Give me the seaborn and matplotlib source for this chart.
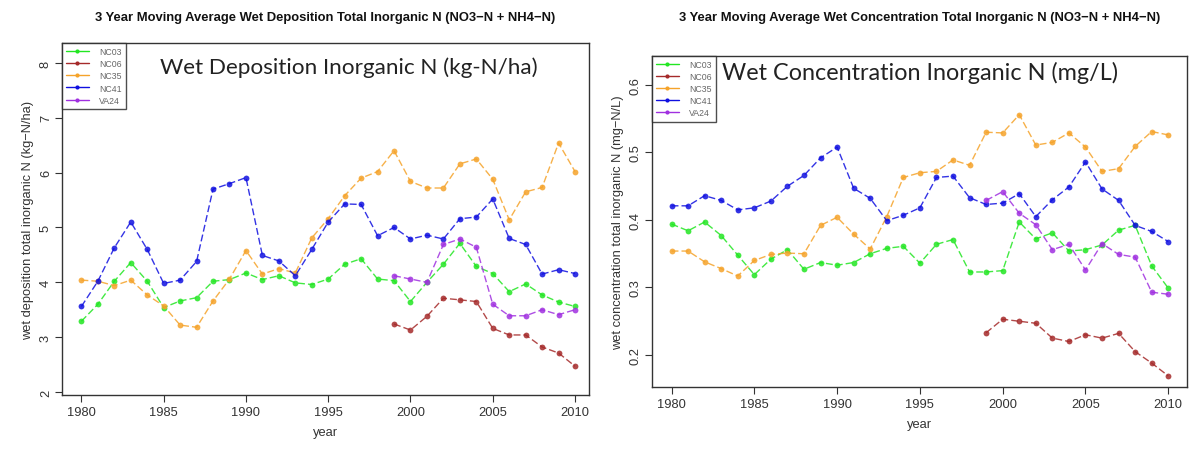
import numpy as np
import pandas as pd
import matplotlib
matplotlib.use("Agg")
import matplotlib.pyplot as plt
import seaborn as sns

# ---- data: 3-year moving averages, 1980-2010 ----
years = list(range(1980, 2011))
sites = ["NC03", "NC06", "NC35", "NC41", "VA24"]
N = None

# wet deposition, total inorganic N (kg-N/ha)
dep_nc03 = [3.29, 3.60, 4.02, 4.36, 4.02, 3.54, 3.66, 3.72, 4.02, 4.05,
            4.17, 4.05, 4.12, 3.99, 3.96, 4.06, 4.33, 4.43, 4.06, 4.03,
            3.65, 4.00, 4.33, 4.71, 4.29, 4.16, 3.83, 3.97, 3.77, 3.64, 3.56]
dep_nc06 = [N] * 19 + [3.24, 3.13, 3.38, 3.71, 3.68, 3.65, 3.16, 3.04, 3.04,
                       2.82, 2.71, 2.47]
dep_nc35 = [4.04, 4.02, 3.94, 4.04, 3.77, 3.57, 3.22, 3.18, 3.66, 4.06,
            4.58, 4.15, 4.25, 4.17, 4.81, 5.16, 5.58, 5.90, 6.02, 6.40,
            5.84, 5.72, 5.72, 6.16, 6.25, 5.88, 5.14, 5.65, 5.73, 6.54, 6.02]
dep_nc41 = [3.56, 4.02, 4.63, 5.10, 4.60, 3.98, 4.04, 4.38, 5.70, 5.80,
            5.91, 4.49, 4.39, 4.12, 4.60, 5.10, 5.43, 5.42, 4.85, 5.00,
            4.79, 4.86, 4.79, 5.16, 5.19, 5.52, 4.80, 4.69, 4.15, 4.23, 4.16]
dep_va24 = [N] * 19 + [4.12, 4.06, 4.00, 4.69, 4.79, 4.64, 3.60, 3.39, 3.39,
                       3.50, 3.41, 3.50]

# wet concentration, total inorganic N (mg-N/L)
conc_nc03 = [0.394, 0.384, 0.397, 0.377, 0.348, 0.319, 0.342, 0.356, 0.327, 0.337,
             0.333, 0.337, 0.350, 0.358, 0.361, 0.336, 0.364, 0.371, 0.323, 0.323,
             0.325, 0.397, 0.372, 0.381, 0.354, 0.356, 0.363, 0.385, 0.392, 0.332, 0.299]
conc_nc06 = [N] * 19 + [0.233, 0.253, 0.250, 0.247, 0.225, 0.220, 0.230, 0.225,
                        0.232, 0.205, 0.188, 0.169]
conc_nc35 = [0.354, 0.354, 0.338, 0.328, 0.317, 0.340, 0.349, 0.351, 0.350, 0.392,
             0.404, 0.379, 0.357, 0.405, 0.463, 0.470, 0.472, 0.489, 0.481, 0.530,
             0.529, 0.556, 0.511, 0.515, 0.529, 0.508, 0.472, 0.476, 0.509, 0.531, 0.526]
conc_nc41 = [0.421, 0.421, 0.436, 0.429, 0.415, 0.418, 0.428, 0.450, 0.466, 0.492,
             0.508, 0.447, 0.432, 0.399, 0.407, 0.418, 0.463, 0.465, 0.433, 0.423,
             0.425, 0.439, 0.405, 0.430, 0.449, 0.486, 0.446, 0.429, 0.392, 0.383, 0.368]
conc_va24 = [N] * 19 + [0.429, 0.442, 0.410, 0.393, 0.356, 0.364, 0.326, 0.365,
                        0.349, 0.345, 0.293, 0.290]

dep_ticks = [2, 3, 4, 5, 6, 7, 8]
conc_ticks = [0.2, 0.3, 0.4, 0.5, 0.6]
year_ticks = [1980, 1985, 1990, 1995, 2000, 2005, 2010]

main_titles = [
    "3 Year Moving Average Wet Deposition Total Inorganic N (NO3\u2212N + NH4\u2212N)",
    "3 Year Moving Average Wet Concentration Total Inorganic N (NO3\u2212N + NH4\u2212N)",
]
overlay_titles = ["Wet Deposition Inorganic N (kg-N/ha)",
                  "Wet Concentration Inorganic N (mg/L)"]
ylabels = ["wet deposition total inorganic N (kg\u2212N/ha)",
           "wet concentration total inorganic N (mg\u2212N/L)"]

palette = {"NC03": "#22e622", "NC06": "#a52a2a", "NC35": "#f5a32a",
           "NC41": "#1010e0", "VA24": "#a030e0"}


def long_frame(series):
    rows = []
    for site, vals in zip(sites, series):
        for yr, v in zip(years, vals):
            if v is not None:
                rows.append((site, yr, v))
    return pd.DataFrame(rows, columns=["site", "year", "value"])


dep_df = long_frame([dep_nc03, dep_nc06, dep_nc35, dep_nc41, dep_va24])
conc_df = long_frame([conc_nc03, conc_nc06, conc_nc35, conc_nc41, conc_va24])

sns.set_theme(style="white")
plt.rcParams["font.family"] = ["Liberation Sans", "DejaVu Sans"]

fig = plt.figure(figsize=(11.95, 4.52), dpi=100)
ax_dep = fig.add_axes([0.0516, 0.1239, 0.4413, 0.7788])
ax_conc = fig.add_axes([0.5453, 0.1416, 0.4480, 0.7330])

panels = [
    # axes, data, y-limits, y-ticks, x-limits, overlay position, overlay size
    (ax_dep, dep_df, (1.945, 8.365), dep_ticks, (1978.8, 2010.85), (0.187, 0.962), 16.2),
    (ax_conc, conc_df, (0.1526, 0.6434), conc_ticks, (1978.8, 2011.13), (0.131, 0.985), 16.8),
]

for i, (ax, df, ylim, yticks, xlim, txt_pos, txt_size) in enumerate(panels):
    for site in sites:
        sub = df[df["site"] == site]
        sns.lineplot(data=sub, x="year", y="value", ax=ax, color=palette[site],
                     marker="o", markersize=4.2, markeredgewidth=0,
                     linewidth=1.0, legend=False, label=site)
    for ln in ax.lines:
        ln.set_dashes((5, 2.2))
        ln.set_alpha(0.85)

    ax.set_xlim(*xlim)
    ax.set_ylim(*ylim)
    ax.set_xticks(year_ticks)
    ax.set_yticks(yticks)
    ax.set_yticklabels([f"{t:g}" for t in yticks], rotation=90, va="center")
    ax.tick_params(axis="both", direction="out", length=5, width=0.8,
                   colors="#333333", labelsize=9.3, pad=3,
                   left=True, bottom=True)
    ax.tick_params(axis="y", pad=2)
    for sp in ax.spines.values():
        sp.set_color("#333333")
        sp.set_linewidth(1.0)
    ax.set_xlabel("year", fontsize=9.3, color="#333333", labelpad=6)
    ax.set_ylabel(ylabels[i], fontsize=9.3, color="#333333", labelpad=4)

    handles = [plt.Line2D([], [], color=palette[s], marker="o", markersize=3,
                          markeredgewidth=0, linewidth=1.0) for s in sites]
    leg = ax.legend(handles, sites, loc="upper left", bbox_to_anchor=(0, 1),
                    borderaxespad=0, fontsize=6.3, labelcolor="#666666",
                    frameon=True, fancybox=False, handlelength=2.6,
                    handletextpad=1.2, labelspacing=0.35, borderpad=0.5)
    leg.get_frame().set_edgecolor("#222222")
    leg.get_frame().set_linewidth(1.0)

    ax.text(txt_pos[0], txt_pos[1], overlay_titles[i],
            transform=ax.transAxes, fontsize=txt_size, family="Lato",
            color="#222222", va="top", ha="left")

    box = ax.get_position()
    fig.text(box.x0 + box.width / 2, 1 - 18 / 452, main_titles[i],
             ha="center", va="center", fontsize=9.4, fontweight="bold",
             color="#111111")

fig.savefig("out.png", dpi=100, facecolor="white")
